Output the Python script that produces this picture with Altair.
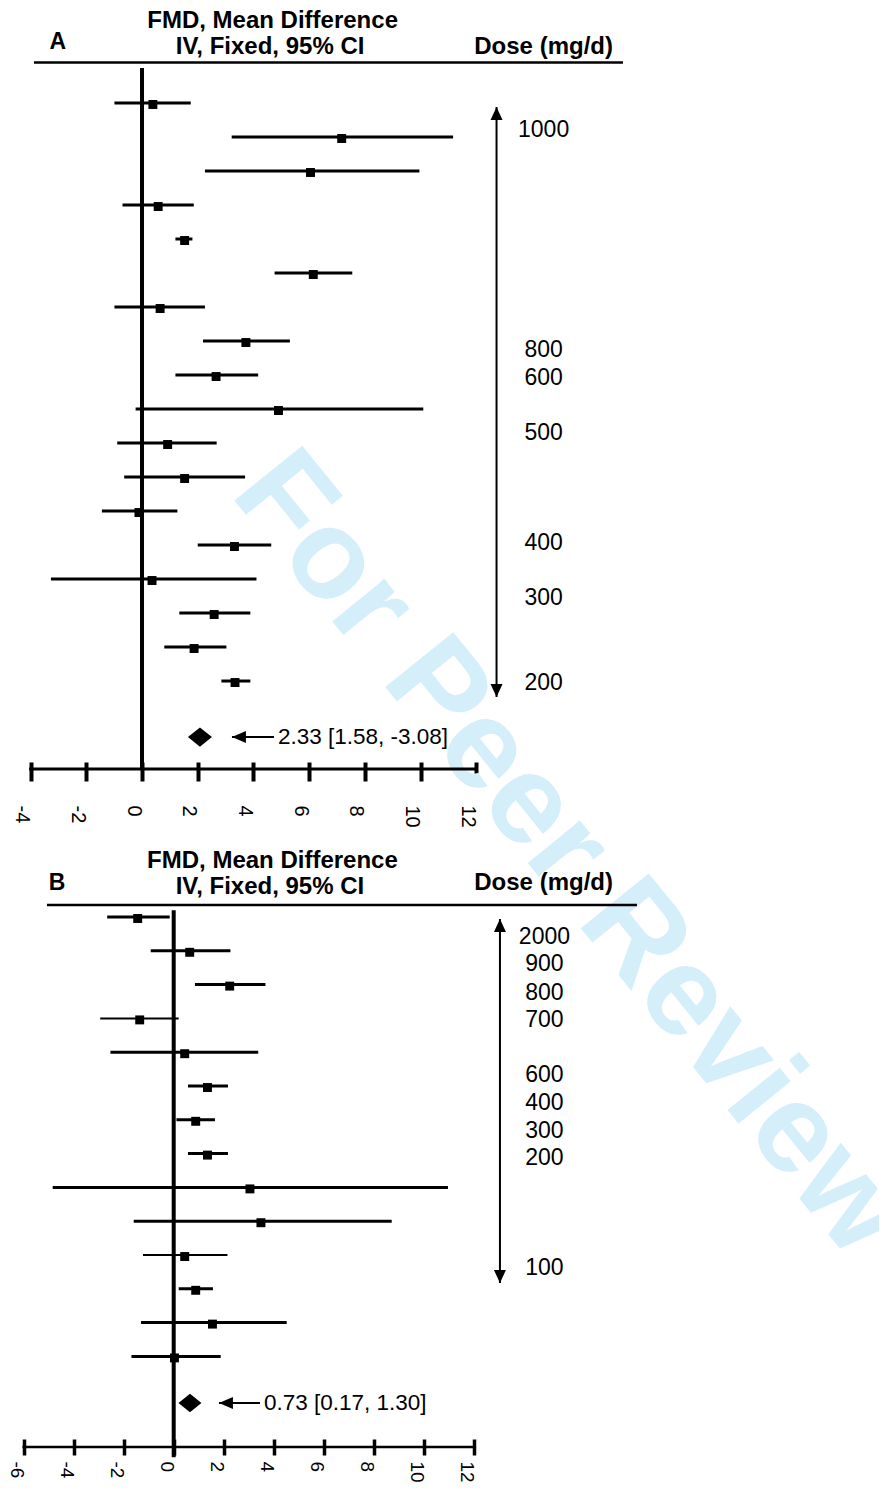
import altair as alt
import pandas as pd

FONT = "Liberation Sans"

# ---------------- data: panel A ----------------
A_mean = [0.39, 7.17, 6.05, 0.58, 1.53, 6.15, 0.65, 3.73, 2.66, 4.90, 0.92, 1.53, -0.11, 3.32, 0.36, 2.59, 1.87, 3.34]
A_lo = [-0.99, 3.22, 2.26, -0.70, 1.20, 4.76, -0.99, 2.19, 1.20, -0.23, -0.89, -0.64, -1.44, 2.00, -3.27, 1.34, 0.80, 2.85]
A_hi = [1.75, 11.17, 9.96, 1.86, 1.81, 7.55, 2.26, 5.31, 4.17, 10.10, 2.68, 3.70, 1.27, 4.64, 4.11, 3.89, 3.03, 3.89]
A_thin = []
A_pooled = 2.08
A_pooled_label = "2.33 [1.58, -3.08]"
A_doses = ["1000", "800", "600", "500", "400", "300", "200"]
A_dose_rows = [0.78, 7.26, 8.09, 9.71, 12.94, 14.56, 17.06]
A_ticks = [-4, -2, 0, 2, 4, 6, 8, 10, 12]

# ---------------- data: panel B ----------------
B_mean = [-1.44, 0.64, 2.24, -1.36, 0.44, 1.35, 0.88, 1.35, 3.05, 3.49, 0.44, 0.88, 1.55, 0.03]
B_lo = [-2.66, -0.92, 0.85, -2.94, -2.53, 0.57, 0.11, 0.57, -4.84, -1.60, -1.23, 0.20, -1.31, -1.69]
B_hi = [-0.16, 2.27, 3.67, 0.20, 3.38, 2.17, 1.65, 2.17, 10.97, 8.72, 2.15, 1.57, 4.52, 1.88]
B_thin = [3, 10]
B_pooled = 0.65
B_pooled_label = "0.73 [0.17, 1.30]"
B_doses = ["2000", "900", "800", "700", "600", "400", "300", "200", "100"]
B_dose_rows = [0.59, 1.39, 2.25, 3.05, 4.67, 5.50, 6.33, 7.13, 10.38]
B_ticks = [-6, -4, -2, 0, 2, 4, 6, 8, 10, 12]

HEAD1 = "FMD, Mean Difference"
HEAD2 = "IV, Fixed, 95% CI"
DOSE_TITLE = "Dose (mg/d)"
WATERMARK = "For Peer Review"

# ---------------- layout ----------------
W = 870
PAGE_LEFT = 8
WATERMARK_PX = (228, 494)   # start of the watermark baseline on the page

LAYOUT_A = dict(
    xdom=[-4.776, 26.463], ydom=[-2.794, 21.676], height=832, top_px=8,
    axis_row=19.588, zero_top=-1.03, zero_bot=19.588,
    head1=(4.69, -2.40), head2=(4.60, -1.65), letter=(-3.02, -1.79), dose_title=(16.91, -1.65),
    rule=(-3.88, 17.27, -1.19), rule_w=2.6,
    pooled_row=18.65, arrow=(3.23, 4.74), text_x=4.88, diamond=576,
    dose_x=12.73, dose_tips=(0.12, 17.47), dose_lab_x=14.42,
    off=-78, tick=19, tickw=4, pad=24, loff=-9, lfs=20, dom_w=3,
)
LAYOUT_B = dict(
    xdom=[-6.588, 28.212], ydom=[-2.278, 15.68], height=607, top_px=840,
    axis_row=15.68, zero_top=-0.2, zero_bot=15.98,
    head1=(3.95, -1.66), head2=(3.85, -0.89), letter=(-4.67, -1.0), dose_title=(17.57, -1.0),
    rule=(-5.07, 18.53, -0.355), rule_w=2.3,
    pooled_row=14.38, arrow=(1.81, 3.45), text_x=3.61, diamond=529,
    dose_x=13.05, dose_tips=(0.06, 10.83), dose_lab_x=14.83,
    off=-8, tick=16, tickw=3.5, pad=6, loff=-7, lfs=19, dom_w=2.5,
)

DIAMOND = "M0,-0.8L1,0L0,0.8L-1,0Z"
ARROW_LEFT = "M0,0L1.4,-0.6L1.4,0.6Z"
ARROW_UP = "M0,0L0.6,1.3L-0.6,1.3Z"
ARROW_DOWN = "M0,0L0.6,-1.3L-0.6,-1.3Z"
LABEL_EXPR = "datum.value < 0 ? '-' + abs(datum.value) : '' + datum.value"


def panel(mean, lo, hi, thin, pooled, pooled_label, doses, dose_rows, ticks, letter, L):
    xs = alt.Scale(domain=L["xdom"], nice=False, zero=False)
    ys = alt.Scale(domain=L["ydom"], nice=False, zero=False, reverse=True)
    ax = alt.Axis(values=ticks, orient="bottom", offset=L["off"], tickSize=L["tick"],
                  tickWidth=L["tickw"], tickColor="black", domain=False, grid=False,
                  labelAngle=90, labelFontSize=L["lfs"], labelFont=FONT, labelColor="black",
                  labelPadding=L["pad"], labelOffset=L["loff"], labelFlush=False,
                  labelOverlap=False, labelExpr=LABEL_EXPR, title=None)

    def X(f):
        return alt.X(f, type="quantitative", scale=xs, axis=ax)

    def Y(f):
        return alt.Y(f, type="quantitative", scale=ys, axis=None)

    def text(x, y, t, color="black", **kw):
        d = pd.DataFrame({"x": [x], "y": [y], "t": [t]})
        return alt.Chart(d).mark_text(font=FONT, color=color, **kw).encode(
            x=X("x"), y=Y("y"), text="t:N")

    # watermark: page position converted into this panel's data units, clipped to the panel
    x0, x1 = L["xdom"]
    y0, y1 = L["ydom"]
    wx = x0 + (WATERMARK_PX[0] - PAGE_LEFT) / W * (x1 - x0)
    wy = y0 + (WATERMARK_PX[1] - L["top_px"]) / L["height"] * (y1 - y0)
    layers = [text(wx, wy, WATERMARK, fontSize=127, fontWeight="bold", angle=51, align="left",
                   baseline="alphabetic", color="#d4eefa", clip=True)]

    rows = list(range(len(mean)))
    studies = pd.DataFrame({"row": rows, "mean": mean, "lo": lo, "hi": hi,
                            "w": [2 if i in thin else 3 for i in rows]})

    # header
    layers.append(text(*L["head1"], HEAD1, fontSize=24, fontWeight="bold", align="center", baseline="middle"))
    layers.append(text(*L["head2"], HEAD2, fontSize=24, fontWeight="bold", align="center", baseline="middle"))
    layers.append(text(*L["letter"], letter, fontSize=23, fontWeight="bold", align="center", baseline="middle"))
    layers.append(text(*L["dose_title"], DOSE_TITLE, fontSize=24, fontWeight="bold", align="right", baseline="middle"))
    r0, r1, ry = L["rule"]
    layers.append(alt.Chart(pd.DataFrame({"x": [r0], "x2": [r1], "y": [ry]})).mark_rule(
        color="black", strokeWidth=L["rule_w"]).encode(x=X("x"), x2="x2", y=Y("y")))

    # zero line
    layers.append(alt.Chart(pd.DataFrame({"x": [0], "y": [L["zero_top"]], "y2": [L["zero_bot"]]})).mark_rule(
        color="black", strokeWidth=4).encode(x=X("x"), y=Y("y"), y2="y2"))

    # axis baseline
    layers.append(alt.Chart(pd.DataFrame({"x": [ticks[0]], "x2": [ticks[-1]], "y": [L["axis_row"]]})).mark_rule(
        color="black", strokeWidth=L["dom_w"], strokeCap="square").encode(x=X("x"), x2="x2", y=Y("y")))

    # confidence intervals and point estimates
    layers.append(alt.Chart(studies).mark_rule(color="black").encode(
        x=X("lo"), x2="hi", y=Y("row"), strokeWidth=alt.StrokeWidth("w:Q", scale=None)))
    layers.append(alt.Chart(studies).mark_square(filled=True, size=80, color="black", opacity=1,
                                                 yOffset=1.5).encode(x=X("mean"), y=Y("row")))

    # pooled estimate
    pr = L["pooled_row"]
    layers.append(alt.Chart(pd.DataFrame({"x": [pooled], "y": [pr]})).mark_point(
        shape=DIAMOND, filled=True, size=L["diamond"], color="black", opacity=1).encode(x=X("x"), y=Y("y")))
    a0, a1 = L["arrow"]
    layers.append(alt.Chart(pd.DataFrame({"x": [a0], "x2": [a1], "y": [pr]})).mark_rule(
        color="black", strokeWidth=2).encode(x=X("x"), x2="x2", y=Y("y")))
    layers.append(alt.Chart(pd.DataFrame({"x": [a0], "y": [pr]})).mark_point(
        shape=ARROW_LEFT, filled=True, size=400, color="black", opacity=1).encode(x=X("x"), y=Y("y")))
    layers.append(text(L["text_x"], pr, pooled_label, fontSize=22.5, align="left", baseline="middle"))

    # dose arrow
    t0, t1 = L["dose_tips"]
    layers.append(alt.Chart(pd.DataFrame({"x": [L["dose_x"]], "y": [t0], "y2": [t1]})).mark_rule(
        color="black", strokeWidth=2).encode(x=X("x"), y=Y("y"), y2="y2"))
    layers.append(alt.Chart(pd.DataFrame({"x": [L["dose_x"]], "y": [t0]})).mark_point(
        shape=ARROW_UP, filled=True, size=400, color="black", opacity=1).encode(x=X("x"), y=Y("y")))
    layers.append(alt.Chart(pd.DataFrame({"x": [L["dose_x"]], "y": [t1]})).mark_point(
        shape=ARROW_DOWN, filled=True, size=400, color="black", opacity=1).encode(x=X("x"), y=Y("y")))
    dose_df = pd.DataFrame({"x": [L["dose_lab_x"]] * len(doses), "y": dose_rows, "t": doses})
    layers.append(alt.Chart(dose_df).mark_text(font=FONT, fontSize=23, color="black", align="center",
                                               baseline="middle").encode(x=X("x"), y=Y("y"), text="t:N"))

    return alt.layer(*layers).properties(width=W, height=L["height"])


chart_a = panel(A_mean, A_lo, A_hi, A_thin, A_pooled, A_pooled_label, A_doses, A_dose_rows, A_ticks, "A", LAYOUT_A)
chart_b = panel(B_mean, B_lo, B_hi, B_thin, B_pooled, B_pooled_label, B_doses, B_dose_rows, B_ticks, "B", LAYOUT_B)

chart = alt.vconcat(chart_a, chart_b, spacing=0, bounds="flush").properties(
    padding={"left": -2, "top": 0, "right": 0, "bottom": 0}
).configure_view(stroke=None)

chart.save("out.html", embed_options={"renderer": "svg", "actions": False})
